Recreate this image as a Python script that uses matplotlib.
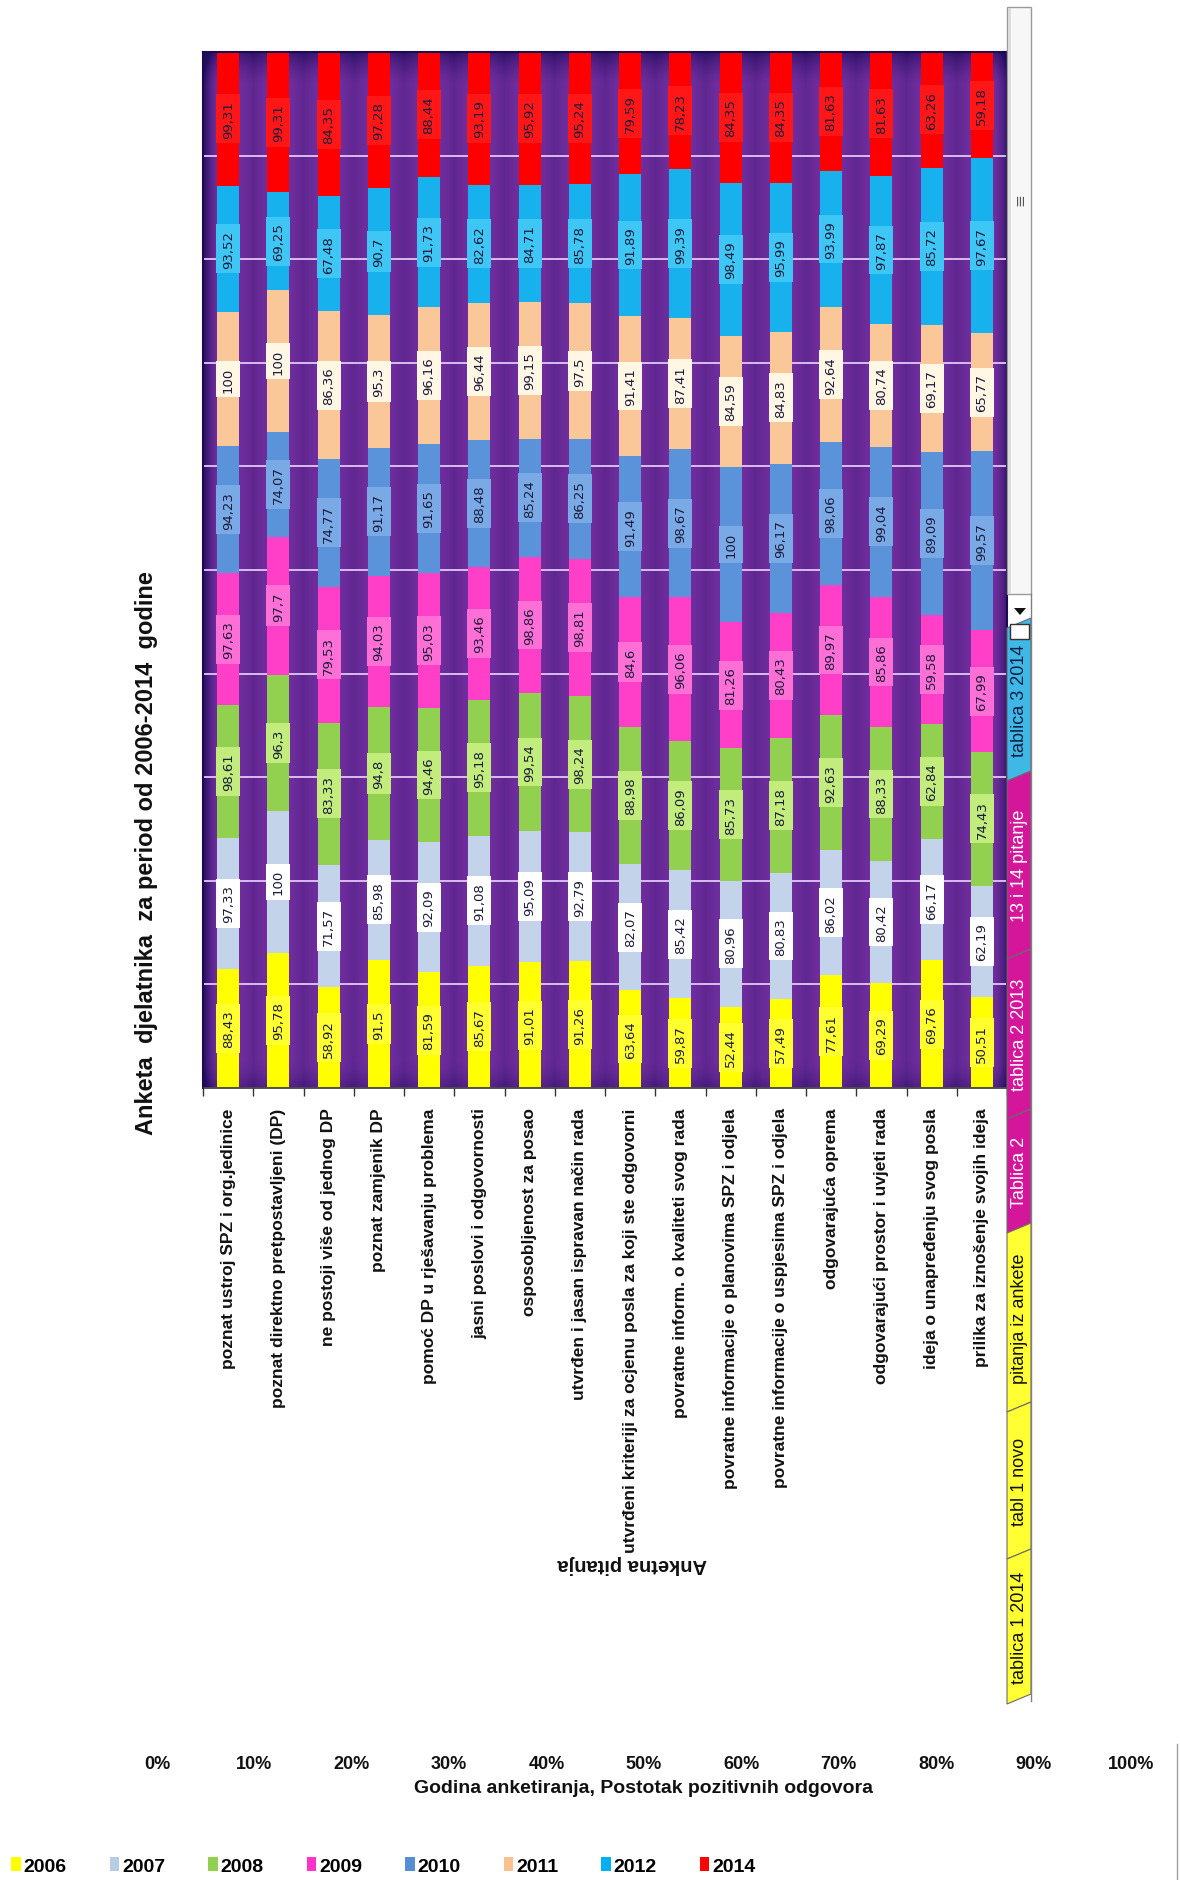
import numpy as np
import matplotlib
matplotlib.use("Agg")
import matplotlib.pyplot as plt
from matplotlib.patches import Polygon, Rectangle
from matplotlib.lines import Line2D

# ---------------- data ----------------
categories = [
    "poznat ustroj SPZ i org.jedinice",
    "poznat direktno pretpostavljeni (DP)",
    "ne postoji više od jednog DP",
    "poznat zamjenik DP",
    "pomoć DP u rješavanju problema",
    "jasni poslovi i odgovornosti",
    "osposobljenost za posao",
    "utvrđen i jasan ispravan način rada",
    "utvrđeni kriteriji za ocjenu posla za koji ste odgovorni",
    "povratne inform. o kvaliteti svog rada",
    "povratne informacije o planovima SPZ i odjela",
    "povratne informacije o uspjesima SPZ i odjela",
    "odgovarajuća oprema",
    "odgovarajući prostor i uvjeti rada",
    "ideja o unapređenju svog posla",
    "prilika za iznošenje svojih ideja",
]
years = ["2006", "2007", "2008", "2009", "2010", "2011", "2012", "2014"]
v2006 = [88.43, 95.78, 58.92, 91.5, 81.59, 85.67, 91.01, 91.26, 63.64, 59.87, 52.44, 57.49, 77.61, 69.29, 69.76, 50.51]
v2007 = [97.33, 100, 71.57, 85.98, 92.09, 91.08, 95.09, 92.79, 82.07, 85.42, 80.96, 80.83, 86.02, 80.42, 66.17, 62.19]
v2008 = [98.61, 96.3, 83.33, 94.8, 94.46, 95.18, 99.54, 98.24, 88.98, 86.09, 85.73, 87.18, 92.63, 88.33, 62.84, 74.43]
v2009 = [97.63, 97.7, 79.53, 94.03, 95.03, 93.46, 98.86, 98.81, 84.6, 96.06, 81.26, 80.43, 89.97, 85.86, 59.58, 67.99]
v2010 = [94.23, 74.07, 74.77, 91.17, 91.65, 88.48, 85.24, 86.25, 91.49, 98.67, 100, 96.17, 98.06, 99.04, 89.09, 99.57]
v2011 = [100, 100, 86.36, 95.3, 96.16, 96.44, 99.15, 97.5, 91.41, 87.41, 84.59, 84.83, 92.64, 80.74, 69.17, 65.77]
v2012 = [93.52, 69.25, 67.48, 90.7, 91.73, 82.62, 84.71, 85.78, 91.89, 99.39, 98.49, 95.99, 93.99, 97.87, 85.72, 97.67]
v2014 = [99.31, 99.31, 84.35, 97.28, 88.44, 93.19, 95.92, 95.24, 79.59, 78.23, 84.35, 84.35, 81.63, 81.63, 63.26, 59.18]
series = [v2006, v2007, v2008, v2009, v2010, v2011, v2012, v2014]

pct_ticks = [0, 10, 20, 30, 40, 50, 60, 70, 80, 90, 100]
title = "Anketa  djelatnika  za period od 2006-2014  godine"
xlabel = "Godina anketiranja, Postotak pozitivnih odgovora"
axis_title = "Anketna pitanja"
sheet_tabs = ["tablica 3 2014", "13 i 14 pitanje", "tablica 2 2013", "Tablica 2",
              "pitanja iz ankete", "tabl 1 novo", "tablica 1 2014"]

# ---------------- style ----------------
bar_colors = ["#FFFF00", "#C3D4EA", "#92D050", "#FF3FC8", "#5B93DB", "#FAC898", "#17B2EE", "#FF0000"]
box_colors = ["#FFFF30", "#FFFFFF", "#C2EC7C", "#FF6FD6", "#7AAAE6", "#FFF6E4", "#3EC6F4", "#FF1616"]
legend_colors = ["#FFFF00", "#B8CCE4", "#92D050", "#FF33CC", "#558ED5", "#FAC090", "#00B0F0", "#FF0000"]

W, H = 1180, 1881
SANS = ["Liberation Sans", "DejaVu Sans"]
plt.rcParams["font.family"] = SANS

fig = plt.figure(figsize=(W / 100, H / 100), dpi=100)
fig.patch.set_facecolor("white")


def fx(x):
    return x / W


def fy(y):
    return 1 - y / H


ax = fig.add_axes([fx(203), fy(1089), fx(1007) - fx(203), fy(53) - fy(1089)])

n = len(categories)
xpos = np.arange(n)

# purple plot-area background with darker bands and edges
nxp, nyp = 1600, 400
xs = np.linspace(-0.5, n - 0.5, nxp)
ys = np.linspace(0, 100, nyp)
X, Y = np.meshgrid(xs, ys)
d = np.abs(X - np.round(X))
band = np.clip((d - 0.2) / 0.3, 0, 1)
dark = 0.22 * band ** 1.3
dark += 0.75 * np.clip(1 - (X + 0.5) / 0.3, 0, 1) ** 1.5
dark += 0.6 * np.clip(1 - (100 - Y) / 3.0, 0, 1) ** 1.5
dark += 0.45 * np.clip(1 - (n - 0.5 - X) / 0.25, 0, 1) ** 1.5
dark += 0.35 * np.clip(1 - Y / 2.5, 0, 1) ** 1.5
dark = np.clip(dark, 0, 1)
base = np.array([0.44, 0.18, 0.62])
darkc = np.array([0.14, 0.05, 0.38])
img = base * (1 - dark[..., None]) + darkc * dark[..., None]
ax.imshow(img, extent=(-0.5, n - 0.5, 0, 100), origin="lower", aspect="auto",
          zorder=0, interpolation="bilinear")

totals = np.sum(np.array(series, dtype=float), axis=0)
bottom = np.zeros(n)
containers = []
for yr, vals, col, bcol in zip(years, series, bar_colors, box_colors):
    vals = np.array(vals, dtype=float)
    share = vals / totals * 100
    bc = ax.bar(xpos, share, width=0.44, bottom=bottom, color=col, linewidth=0,
                zorder=2, label=yr)
    labels = [f"{v:g}".replace(".", ",") for v in vals]
    ax.bar_label(bc, labels=labels, label_type="center", rotation=90, fontsize=9.5,
                 color="#1a1a3a", family=["DejaVu Sans"],
                 bbox=dict(boxstyle="square,pad=0.42", fc=bcol, ec="none"), zorder=3)
    containers.append(bc)
    bottom += share

ax.set_xlim(-0.5, n - 0.5)
ax.set_ylim(0, 100)
ax.set_yticks(pct_ticks)
ax.tick_params(axis="y", length=0, labelleft=False)
ax.yaxis.grid(True, color="#D9BCF0", linewidth=1.4)
ax.set_axisbelow(True)

ax.set_xticks(xpos)
ax.set_xticklabels(categories, rotation=90, fontsize=12.5, fontweight="bold",
                   color="#111111", va="top", ha="center")
ax.tick_params(axis="x", which="major", length=0, pad=14)
ax.set_xticks(np.arange(-0.5, n, 1.0), minor=True)
ax.tick_params(axis="x", which="minor", length=6, width=1, color="#333333")

for s in ["left", "top", "right"]:
    ax.spines[s].set_color("#1a0a50")
    ax.spines[s].set_linewidth(1.5)
ax.spines["bottom"].set_color("#333333")
ax.spines["bottom"].set_linewidth(1.2)

# chart title (rotated) and upside-down axis title
fig.text(fx(147), fy(853), title, rotation=90, ha="center", va="center",
         fontsize=17, fontweight="bold", color="#111111")
fig.text(fx(632), fy(1565), axis_title, rotation=180, ha="center", va="center",
         fontsize=14.5, fontweight="bold", color="#111111")

# value axis shown horizontally at the bottom
axp = fig.add_axes([fx(157), fy(1752), fx(1131) - fx(157), 0.0005])
axp.set_xlim(0, 100)
axp.set_xticks(pct_ticks)
axp.set_xticklabels([f"{t}%" for t in pct_ticks], fontsize=13, fontweight="bold", color="#111111")
axp.tick_params(axis="x", length=0, pad=3)
axp.set_yticks([])
for s in axp.spines.values():
    s.set_visible(False)
axp.patch.set_alpha(0)
axp.set_xlabel(xlabel, fontsize=14, fontweight="bold", color="#111111", labelpad=5)

# legend
handles = [Rectangle((0, 0), 1, 1, fc=c, ec="none") for c in legend_colors]
fig.legend(handles, years, loc="center left", bbox_to_anchor=(fx(11), fy(1867)),
           ncol=8, frameon=False, prop=dict(weight="bold", size=14),
           handlelength=0.5, handleheight=0.7, handletextpad=0.15,
           columnspacing=2.2, borderpad=0, borderaxespad=0)

# ---------- Excel scrollbar and sheet tabs (decoration) ----------
def frect(x0, y0, x1, y1, **kw):
    r = Rectangle((fx(x0), fy(y1)), fx(x1) - fx(x0), fy(y0) - fy(y1),
                  transform=fig.transFigure, **kw)
    fig.add_artist(r)


frect(1007, 8, 1031, 595, fc="#F7F7F7", ec="#9A9A9A", lw=1)
fig.add_artist(Line2D([fx(1009), fx(1009)], [fy(10), fy(593)], color="#DADADA", lw=2,
                      transform=fig.transFigure))
fig.text(fx(1020), fy(200), "≡", rotation=90, ha="center", va="center", fontsize=11,
         color="#555555", family=["DejaVu Sans"])
tri = Polygon([(fx(1014), fy(609)), (fx(1026), fy(609)), (fx(1020), fy(616))],
              closed=True, transform=fig.transFigure, fc="#111111", ec="none")
fig.add_artist(tri)

tab_ranges = [(624, 777), (777, 955), (955, 1115), (1115, 1229), (1229, 1408), (1408, 1555), (1555, 1700)]
tab_fc = ["#3FB8E8", "#D4169A", "#D4169A", "#D4169A", "#FFFF33", "#FFFF33", "#FFFF33"]
tab_tc = ["#102040", "white", "white", "white", "#111111", "#111111", "#111111"]
for (a, b), lab, fc, tc in zip(tab_ranges, sheet_tabs, tab_fc, tab_tc):
    pts = [(fx(1007), fy(a + 5)), (fx(1031), fy(a - 5)), (fx(1031), fy(b - 5)), (fx(1007), fy(b + 5))]
    fig.add_artist(Polygon(pts, closed=True, transform=fig.transFigure, fc=fc,
                           ec="#6A6A6A", lw=0.8))
    fig.text(fx(1020), fy((a + b) / 2), lab, rotation=90, ha="center", va="center",
             fontsize=13, color=tc)
frect(1010, 625, 1029, 640, fc="white", ec="#333333", lw=1)
fig.add_artist(Line2D([fx(1031), fx(1031)], [fy(595), fy(1702)], color="#808080", lw=1,
                      transform=fig.transFigure))
fig.add_artist(Line2D([fx(1177), fx(1177)], [fy(1745), fy(1881)], color="#A0A0A0", lw=1,
                      transform=fig.transFigure))

fig.savefig("out.png", dpi=100)
